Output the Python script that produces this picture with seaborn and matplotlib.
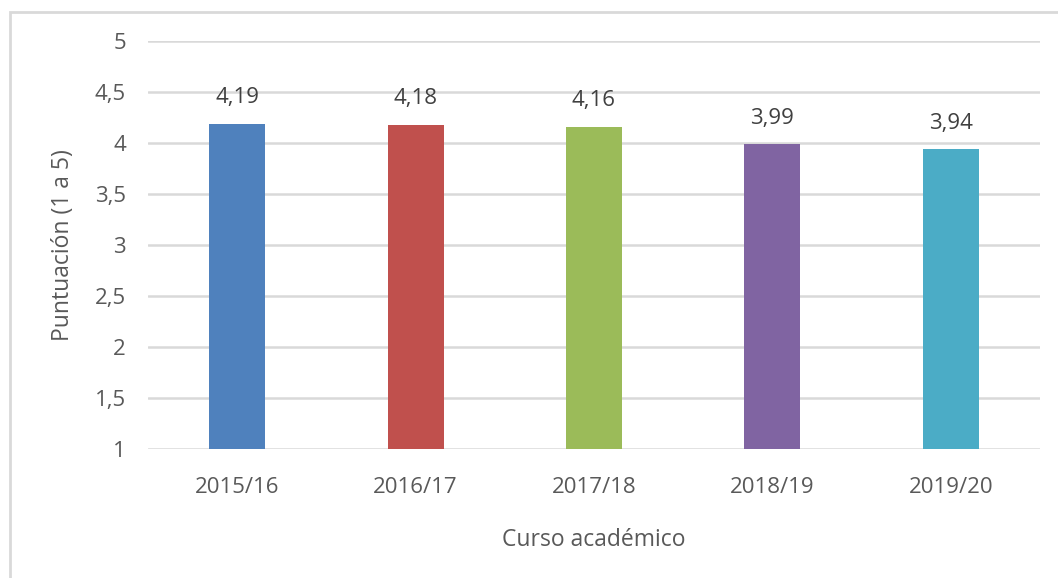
import matplotlib
matplotlib.use("Agg")
import matplotlib.pyplot as plt
from matplotlib.patches import Rectangle
import seaborn as sns
import pandas as pd

cursos = ["2015/16", "2016/17", "2017/18", "2018/19", "2019/20"]
puntuacion = [4.19, 4.18, 4.16, 3.99, 3.94]
colores = ["#4F81BD", "#C0504D", "#9BBB59", "#8064A2", "#4BACC6"]
yticks = [1, 1.5, 2, 2.5, 3, 3.5, 4, 4.5, 5]

df = pd.DataFrame({"Curso": cursos, "Puntuacion": puntuacion})

sns.set_style("white")
plt.rcParams["font.family"] = ["Open Sans", "DejaVu Sans"]
text_color = "#595959"

fig = plt.figure(figsize=(10.58, 5.78), dpi=100)
ax = fig.add_axes([148 / 1058, 1 - 449 / 578, (1040 - 148) / 1058, (449 - 41) / 578])

# Excel-style bars rising from the axis minimum
sns.barplot(data=df, x="Curso", y=[p - 1 for p in puntuacion], bottom=1,
            hue="Curso", palette=colores, width=0.315, legend=False, ax=ax,
            linewidth=0, saturation=1)

ax.set_ylim(1, 5)
ax.set_xlim(-0.5, 4.5)
ax.set_yticks(yticks)
ax.set_yticklabels([f"{t:g}".replace(".", ",") for t in yticks])
ax.grid(axis="y", color="#d9d9d9", linewidth=1.8)
ax.set_axisbelow(True)
for s in ax.spines.values():
    s.set_visible(False)
ax.tick_params(axis="both", length=0, labelsize=16, colors=text_color)
ax.tick_params(axis="y", pad=16)
ax.tick_params(axis="x", pad=20)

for i, v in enumerate(puntuacion):
    ax.text(i, v + 0.15, f"{v:.2f}".replace(".", ","), ha="center", va="bottom",
            fontsize=16, color="#404040")

ax.set_xlabel("Curso académico", fontsize=16.5, color=text_color, labelpad=22)
ax.set_ylabel("Puntuación (1 a 5)", fontsize=16.5, color=text_color, labelpad=14)

# chart area border (only top and left visible in the crop)
fig.add_artist(Rectangle((10 / 1058, -0.1), 1.2, 1.1 - 12 / 578, transform=fig.transFigure,
                         fill=False, edgecolor="#d9d9d9", linewidth=2))

fig.savefig("out.png", dpi=100)
